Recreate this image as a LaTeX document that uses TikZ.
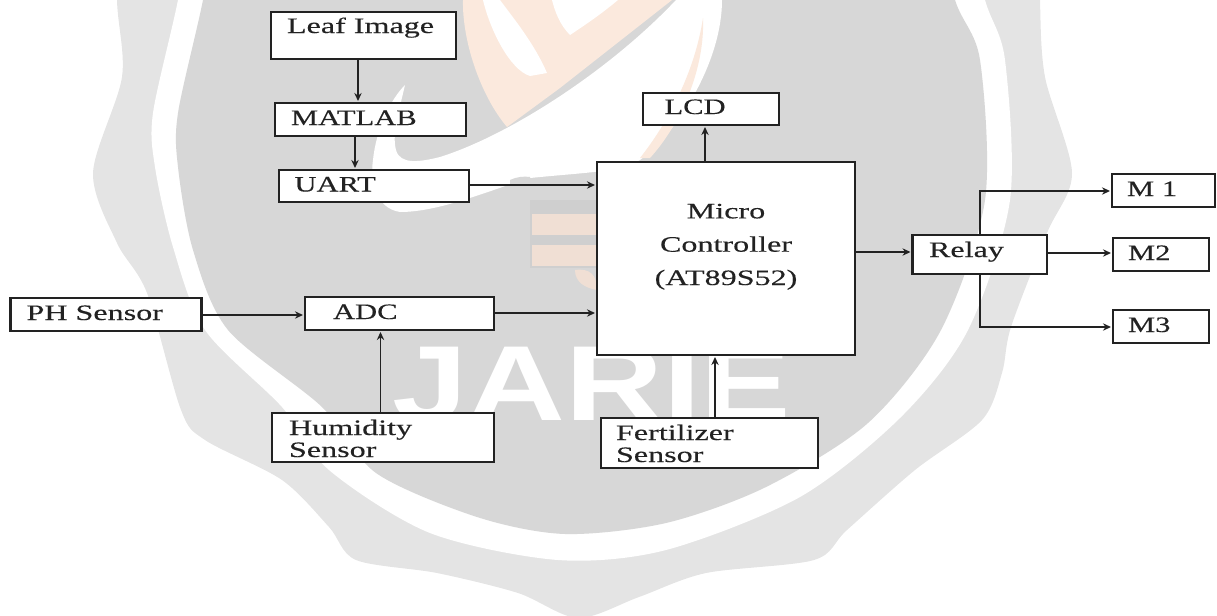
\documentclass[tikz,border=0pt]{standalone}
\usepackage{fontspec}
\setmainfont[FakeStretch=1.46,FakeBold=0.25]{Liberation Serif}
\newfontfamily\capsfont[FakeStretch=1.39,FakeBold=0.25]{Liberation Serif}
\newfontfamily\wmfont[FakeStretch=1.27]{Liberation Sans}
\usetikzlibrary{arrows.meta}
\definecolor{wmouter}{HTML}{E4E4E4}
\definecolor{wminner}{HTML}{D7D7D7}
\definecolor{wmorange}{HTML}{FBE9DD}
\definecolor{wmbar}{HTML}{F0DFD4}
\definecolor{wmbarbg}{HTML}{CFCFCF}
\definecolor{ink}{HTML}{222222}
\tikzset{
  boxstyle/.style={draw=ink,line width=1.6pt,fill=white,inner sep=0pt,outer sep=0pt},
  lbl/.style={text=ink,inner sep=0pt,outer sep=0pt,anchor=base west,align=left,font=\fontsize{16.5}{16.5}\selectfont},
  lblcaps/.style={lbl,font=\capsfont\fontsize{16.5}{16.5}\selectfont},
  lblc/.style={text=ink,inner sep=0pt,outer sep=0pt,anchor=base,align=center,font=\fontsize{16.5}{25}\selectfont},
  conn/.style={draw=ink,line width=1.4pt,-{Stealth[length=6pt,width=5.5pt]},shorten >=1.5pt},
  connthin/.style={conn,line width=1pt},
}
\newcommand{\bx}[5]{%
  \pgfmathsetmacro{\bxw}{(#4-#2)*0.75}\pgfmathsetmacro{\bxh}{(#5-#3)*0.75}%
  \pgfmathsetmacro{\bxx}{(#2+#4)/2}\pgfmathsetmacro{\bxy}{(#3+#5)/2}%
  \node[boxstyle,minimum width=\bxw pt,minimum height=\bxh pt] (#1) at (\bxx,\bxy) {};}
\begin{document}
\begin{tikzpicture}[x=0.75pt,y=-0.75pt]
\useasboundingbox (0,0) rectangle (1217,615);
\begin{scope}
\clip (0,0) rectangle (1217,615);
% watermark seal
\fill[wmouter] plot[smooth cycle,tension=.5] coordinates {(118,-100)(117,0)(122,77)(93,173)(117,243)(147,293)(181,410)(205,440)(282,480)(329,527)(356,560)(437,573)(518,593)(578,618)(639,597)(706,573)(814,560)(847,530)(915,470)(982,420)(1002,373)(1011,327)(1047,233)(1072,173)(1045,77)(1040,0)(1040,-100)(600,-200)};
\fill[white] plot[smooth cycle,tension=.5] coordinates {(195,-100)(178,0)(153,113)(155,167)(173,247)(205,330)(282,407)(329,470)(430,533)(558,560)(666,550)(800,497)(901,417)(968,330)(1010,200)(1005,60)(985,0)(960,-100)(600,-200)};
\fill[wminner] plot[smooth cycle,tension=.5] coordinates {(220,-100)(203,0)(178,113)(178,167)(193,250)(228,330)(322,407)(376,473)(477,517)(565,534)(666,523)(766,487)(868,423)(941,330)(985,200)(980,60)(955,0)(930,-100)(600,-200)};
% emblem
\fill[wmorange] (463,0) .. controls (462,40) and (480,95) .. (507,127) -- (560,88) -- (672,0) -- cycle;
\fill[white] (483,0) .. controls (490,30) and (510,70) .. (530,76) -- (547,73) .. controls (535,45) and (515,20) .. (500,0) -- cycle;
\fill[white] (552,0) -- (618,0) .. controls (600,15) and (585,25) .. (570,35) .. controls (560,25) and (555,12) .. (552,0) -- cycle;
\fill[white] (676,0) -- (722,0) .. controls (722,60) and (680,130) .. (640,160) .. controls (620,172) and (590,172) .. (530,178) .. controls (490,190) and (440,212) .. (400,212) .. controls (375,208) and (370,180) .. (373,160) .. controls (376,130) and (390,100) .. (405,85) .. controls (398,115) and (392,135) .. (396,150) .. controls (400,165) and (420,162) .. (440,157) .. controls (510,135) and (610,70) .. (676,0) -- cycle;
\fill[wmorange] (703,18) .. controls (695,70) and (670,120) .. (640,158) -- (650,158) .. controls (680,125) and (705,70) .. (703,18) -- cycle;
\fill[wminner] (510,180) .. controls (516,177) and (524,176) .. (530,177) -- (532,205) -- (510,205) -- cycle;
\fill[wmbarbg] (530,200) rectangle (600,268);
\fill[wmbar] (532,214) rectangle (600,235);
\fill[wmbar] (532,245) rectangle (600,266);
\fill[wmbar] (575,270) .. controls (590,268) and (597,275) .. (597,290) .. controls (585,288) and (575,282) .. (575,270) -- cycle;
\node[text=white,inner sep=0pt,anchor=base west,font=\wmfont\bfseries\fontsize{80}{80}\selectfont] (wm) at (392,420) {JARIE};
\end{scope}
% boxes
\bx{leaf}{271}{12}{456}{59}
\bx{matlab}{275}{103}{466}{136}
\bx{uart}{279}{170}{469}{202}
\bx{ph}{10.5}{298}{201.5}{331}
\bx{adc}{305}{297}{494}{330}
\bx{hum}{272}{413}{494}{462}
\bx{micro}{597}{162}{855}{355}
\bx{lcd}{643}{93}{779}{125}
\bx{relay}{912.5}{235}{1047}{274}
\bx{mone}{1112}{174}{1215}{207}
\bx{mtwo}{1113}{238}{1209}{271}
\bx{mthree}{1113}{310}{1209}{343}
\bx{fert}{601}{418}{818}{468}
% labels
\node[lbl] (leaft) at (287,33) {Leaf Image};
\node[lblcaps] (matlabt) at (291,125) {MATLAB};
\node[lblcaps] (uartt) at (294.5,191.5) {UART};
\node[lbl] (pht) at (26.5,320) {PH Sensor};
\node[lblcaps] (adct) at (333,319) {ADC};
\node[lbl] (humt) at (289,457) {Humidity\\Sensor};
\node[lblc] (microt) at (726,285) {Micro\\Controller\\(AT89S52)};
\node[lblcaps] (lcdt) at (664.5,114) {LCD};
\node[lbl] (relayt) at (929,257) {Relay};
\node[lblcaps] (monet) at (1127,196) {M 1};
\node[lblcaps] (mtwot) at (1128,260) {M2};
\node[lblcaps] (mthreet) at (1128,332) {M3};
\node[lbl] (fertt) at (616,462) {Fertilizer\\Sensor};
% connector guides
\coordinate (xa) at (358,0);
\coordinate (xb) at (355,0);
\coordinate (xc) at (380.5,0);
\coordinate (xd) at (705,0);
\coordinate (xe) at (715,0);
\coordinate (xf) at (980,0);
\coordinate (ya) at (0,185);
\coordinate (yb) at (0,315);
\coordinate (yc) at (0,313);
\coordinate (yd) at (0,252);
\coordinate (ye) at (0,253);
\coordinate (yf) at (0,191);
\coordinate (yg) at (0,327);
% connectors
\draw[conn] (leaf.south -| xa) -- (matlab.north -| xa);
\draw[conn] (matlab.south -| xb) -- (uart.north -| xb);
\draw[connthin] (uart.east |- ya) -- (micro.west |- ya);
\draw[conn] (ph.east |- yb) -- (adc.west |- yb);
\draw[conn] (adc.east |- yc) -- (micro.west |- yc);
\draw[conn] (hum.north -| xc) -- (adc.south -| xc);
\draw[conn] (micro.north -| xd) -- (lcd.south -| xd);
\draw[conn] (fert.north -| xe) -- (micro.south -| xe);
\draw[conn] (micro.east |- yd) -- (relay.west |- yd);
\draw[connthin] (relay.east |- ye) -- (mtwo.west |- ye);
\draw[connthin] (relay.north -| xf) |- (mone.west |- yf);
\draw[connthin] (relay.south -| xf) |- (mthree.west |- yg);
\end{tikzpicture}
\end{document}
